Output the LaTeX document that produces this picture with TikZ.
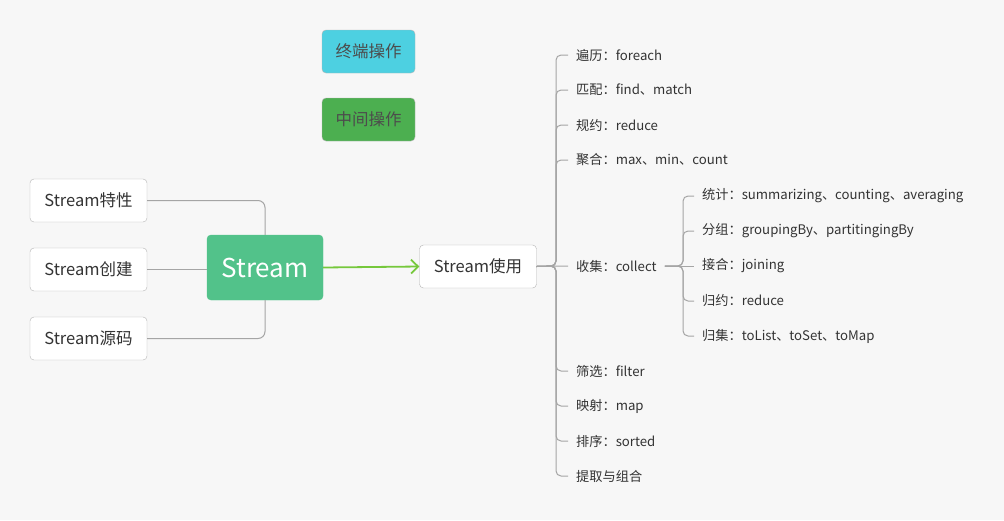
\documentclass[tikz,border=0pt]{standalone}
\usepackage{fontspec}
\setmainfont{Noto Sans CJK SC}
\usepackage{xcolor}
\usetikzlibrary{arrows.meta}
\definecolor{bggray}{RGB}{247,247,247}
\definecolor{linegray}{RGB}{165,165,165}
\definecolor{boxline}{RGB}{180,180,180}
\definecolor{txtgray}{RGB}{51,51,51}
\definecolor{streamgreen}{RGB}{82,194,138}
\definecolor{arrowgreen}{RGB}{118,200,60}
\definecolor{termcyan}{RGB}{77,208,225}
\definecolor{midgreen}{RGB}{76,175,80}

\tikzset{
  topic/.style={draw=boxline, fill=white, rounded corners=4pt, inner sep=0pt,
    minimum width=117pt, minimum height=43pt, text=txtgray,
    font=\fontsize{16.5}{18}\selectfont},
  legendbox/.style={draw=boxline, rounded corners=4pt, inner sep=0pt,
    minimum width=93pt, minimum height=43pt, text=black!70,
    font=\fontsize{16.5}{18}\selectfont},
  leaf/.style={anchor=west, inner xsep=8pt, inner ysep=2pt, text=txtgray,
    font=\fontsize{13.2}{15}\selectfont},
  branch/.style={draw=linegray, line width=1pt, rounded corners=5pt},
}

\begin{document}
\begin{tikzpicture}[x=1pt, y=-1pt]
  \def\trunkx{556}
  \def\leafx{568}
  \def\subx{683}
  \def\subleafx{694}

  %background
  \fill[bggray] (0,0) rectangle (1004,520);

  %legend
  \node[legendbox, fill=termcyan] (term) at (368.5,51.5) {终端操作};
  \node[legendbox, fill=midgreen] (mid) at (368.5,119.5) {中间操作};

  %central topic and left side
  \node[draw=streamgreen, fill=streamgreen, rounded corners=4pt, minimum width=116pt,
    minimum height=65pt, inner sep=0pt, text=white, font=\fontsize{26}{30}\selectfont]
    (stream) at (265,267.5) {Stream};
  \node[topic] (trait) at (88.5,200.5) {Stream特性};
  \node[topic] (create) at (88.5,269.5) {Stream创建};
  \node[topic] (source) at (88.5,338.5) {Stream源码};
  \draw[branch, rounded corners=7pt] (trait.east) -| (stream.north);
  \draw[branch] (create.east) -- (create.east -| stream.west);
  \draw[branch, rounded corners=7pt] (source.east) -| (stream.south);

  %usage
  \node[topic] (use) at (478,266.5) {Stream使用};
  \draw[line width=1.8pt, arrowgreen, -{Straight Barb[length=7pt,width=14pt]}]
    (stream.east) -- (use.west);

  \coordinate (trunk) at (\trunkx,266);
  \foreach \name/\y/\txt in {foreach/55/遍历：foreach, match/90/匹配：find、match,
      reduce/125/规约：reduce, count/160/聚合：max、min、count,
      filter/371/筛选：filter, map/406/映射：map, sorted/441/排序：sorted,
      combine/476/提取与组合}
  {
    \node[leaf] (\name) at (\leafx,\y) {\txt};
    \draw[branch] (use.east) -- (trunk) |- (\name.west);
  }
  \node[leaf] (collect) at (\leafx,266) {收集：collect};
  \draw[branch] (use.east) -- (collect.west);

  %collect children
  \coordinate (subtrunk) at (\subx,266);
  \foreach \name/\y/\txt in {stat/196/统计：summarizing、counting、averaging,
      group/231/分组：groupingBy、partitingingBy,
      reducing/301/归约：reduce, tocoll/336/归集：toList、toSet、toMap}
  {
    \node[leaf] (\name) at (\subleafx,\y) {\txt};
    \draw[branch] (collect.east) -- (subtrunk) |- (\name.west);
  }
  \node[leaf] (join) at (\subleafx,266) {接合：joining};
  \draw[branch] (collect.east) -- (join.west);
\end{tikzpicture}
\end{document}
